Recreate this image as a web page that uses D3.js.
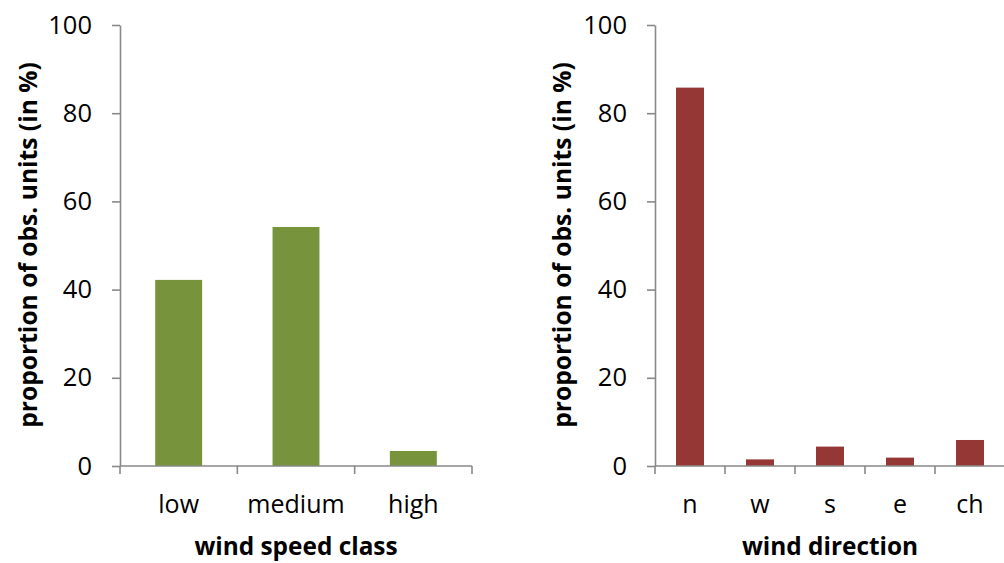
<!DOCTYPE html>
<html><head><meta charset="utf-8">
<script src="https://cdn.jsdelivr.net/npm/d3@7"></script>
<style>
body{margin:0;background:#fff;}
svg{display:block;font-family:"Open Sans",sans-serif;}
</style></head><body>
<svg id="c" width="1004" height="563"></svg>
<script>
const speedCategories = ["low","medium","high"];
const speedValues = [42.2, 54.2, 3.4];
const dirCategories = ["n","w","s","e","ch"];
const dirValues = [85.8, 1.5, 4.4, 1.9, 5.9];
const yTicks = [0,20,40,60,80,100];
const yTitle = "proportion of obs. units (in %)";

const svg = d3.select("#c");
const axisColor = "#898989";

function panel(cfg){
  const g = svg.append("g");
  const y = d3.scaleLinear().domain([0,100]).range([466,25]);
  const x = d3.scaleBand().domain(cfg.cats).range([cfg.x0,cfg.x1]).paddingInner(0.6).paddingOuter(0.3);
  const step = x.step();
  g.selectAll("rect").data(cfg.vals).enter().append("rect")
    .attr("x",(d,i)=>x(cfg.cats[i]))
    .attr("width",x.bandwidth())
    .attr("y",d=>y(d))
    .attr("height",d=>y(0)-y(d))
    .attr("fill",cfg.color);
  const ya = g.append("g").attr("transform",`translate(${cfg.x0},0)`)
    .call(d3.axisLeft(y).tickValues(yTicks).tickSize(8).tickSizeOuter(0).tickPadding(20));
  ya.select(".domain").attr("stroke",axisColor).attr("stroke-width",1.6);
  ya.selectAll(".tick line").attr("stroke",axisColor).attr("stroke-width",1.6);
  ya.selectAll(".tick text").attr("font-size",25.5).attr("fill","#000").attr("font-family","Open Sans");
  const xa = g.append("g").attr("transform",`translate(0,${y(0)})`);
  xa.append("line").attr("x1",cfg.x0).attr("x2",cfg.x1).attr("stroke",axisColor).attr("stroke-width",1.6);
  const bounds = cfg.cats.map(c=>x(c)-x.paddingOuter()*step).concat([cfg.x1]);
  xa.selectAll(".bt").data(bounds).enter().append("line")
    .attr("x1",d=>d).attr("x2",d=>d).attr("y1",0).attr("y2",8)
    .attr("stroke",axisColor).attr("stroke-width",1.6);
  xa.selectAll(".lbl").data(cfg.cats).enter().append("text")
    .attr("x",d=>x(d)+x.bandwidth()/2).attr("y",47)
    .attr("text-anchor","middle").attr("font-size",25).text(d=>d);
  g.append("text").attr("x",cfg.titleX).attr("y",555)
    .attr("text-anchor","middle").attr("font-size",24.4).attr("font-weight","bold").text(cfg.xTitle);
  g.append("text").attr("transform",`translate(${cfg.yTitleX},245) rotate(-90)`)
    .attr("text-anchor","middle").attr("font-size",24.6).attr("font-weight","bold").text(yTitle);
}

panel({cats:speedCategories, vals:speedValues, x0:120, x1:472, color:"#77933C",
  xTitle:"wind speed class", titleX:296, yTitleX:37});
panel({cats:dirCategories, vals:dirValues, x0:655, x1:1005, color:"#953735",
  xTitle:"wind direction", titleX:830, yTitleX:571});
</script>
</body></html>
